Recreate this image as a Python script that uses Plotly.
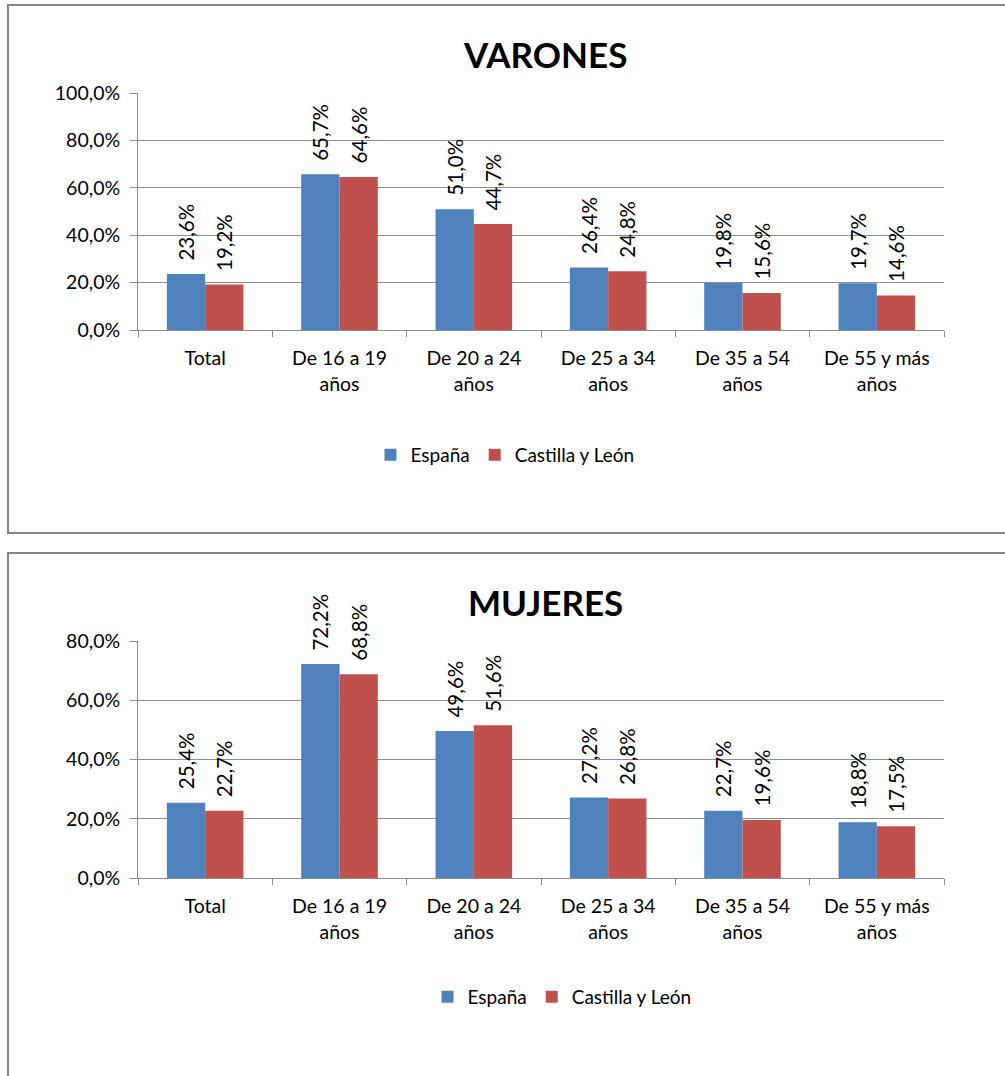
import plotly.graph_objects as go
from plotly.subplots import make_subplots

categories = ["Total", "De 16 a 19<br>años", "De 20 a 24<br>años", "De 25 a 34<br>años",
              "De 35 a 54<br>años", "De 55 y más<br>años"]
series_names = ["España", "Castilla y León"]

varones_espana = [23.6, 65.7, 51.0, 26.4, 19.8, 19.7]
varones_cyl = [19.2, 64.6, 44.7, 24.8, 15.6, 14.6]
mujeres_espana = [25.4, 72.2, 49.6, 27.2, 22.7, 18.8]
mujeres_cyl = [22.7, 68.8, 51.6, 26.8, 19.6, 17.5]

titles = ["VARONES", "MUJERES"]
colors = ["#4F81BD", "#C0504D"]
FONT = "Lato, Open Sans, sans-serif"
W, H = 1005, 1076


def py(px):
    return 1 - px / H


def fmt(v):
    # leading non-breaking spaces keep the rotated label clear of the bar top
    return "\u00a0\u00a0" + f"{v:.1f}".replace(".", ",") + "%"


fig = make_subplots(rows=2, cols=1)

panels = [(varones_espana, varones_cyl, "legend"), (mujeres_espana, mujeres_cyl, "legend2")]
for r, (esp, cyl, leg) in enumerate(panels, start=1):
    for name, vals, col in zip(series_names, [esp, cyl], colors):
        fig.add_trace(go.Bar(
            x=categories, y=vals, name=name, marker_color=col, marker_line_width=0,
            text=[fmt(v) for v in vals], textposition="outside", textangle=-90,
            constraintext="none",
            textfont=dict(family=FONT, size=20.5, color="#000000"),
            cliponaxis=False, legend=leg,
        ), row=r, col=1)

axis_common = dict(showline=True, linecolor="#8C8C8C", linewidth=1)
fig.update_xaxes(**axis_common, ticks="outside", tickson="boundaries", ticklen=6,
                 tickcolor="#8C8C8C", ticklabelstandoff=11,
                 tickfont=dict(family=FONT, size=19.5, color="#000000"),
                 domain=[138 / W, 944 / W])
fig.update_yaxes(**axis_common, ticks="outside", ticklen=7, tickcolor="#8C8C8C",
                 showgrid=True, gridcolor="#8C8C8C", gridwidth=1, zeroline=False,
                 tickformat=".1f", ticksuffix="%", ticklabelstandoff=6,
                 tickfont=dict(family=FONT, size=19.5, color="#000000"))
fig.update_yaxes(range=[0, 100], dtick=20, domain=[py(330), py(93)], row=1, col=1)
fig.update_yaxes(range=[0, 80], dtick=20, domain=[py(878), py(641)], row=2, col=1)

# Frame around each chart
fig.add_shape(type="rect", xref="paper", yref="paper", x0=8 / W, x1=1.02, y0=py(533), y1=py(5),
              line=dict(color="#868686", width=2), fillcolor="rgba(0,0,0,0)")
fig.add_shape(type="rect", xref="paper", yref="paper", x0=8 / W, x1=1.02, y0=-0.05, y1=py(553),
              line=dict(color="#868686", width=2), fillcolor="rgba(0,0,0,0)")

for t, yc in zip(titles, [54, 602]):
    fig.add_annotation(text=f"<b>{t}</b>", xref="paper", yref="paper", x=545 / W, y=py(yc),
                       showarrow=False, font=dict(family=FONT, size=35, color="#000000"),
                       xanchor="center", yanchor="middle")

legend_style = dict(orientation="h", xanchor="center", yanchor="middle",
                    font=dict(family=FONT, size=19, color="#000000"),
                    bgcolor="rgba(0,0,0,0)", itemwidth=30, traceorder="normal")

fig.update_layout(
    width=W, height=H, margin=dict(l=0, r=0, t=0, b=0, autoexpand=False),
    paper_bgcolor="white", plot_bgcolor="white",
    separators=",.", barmode="group", bargap=0.43, bargroupgap=0,
    showlegend=True,
    legend=dict(x=505 / W, y=py(455), **legend_style),
    legend2=dict(x=562 / W, y=py(997), **legend_style),
)

fig.write_html("out.html")
